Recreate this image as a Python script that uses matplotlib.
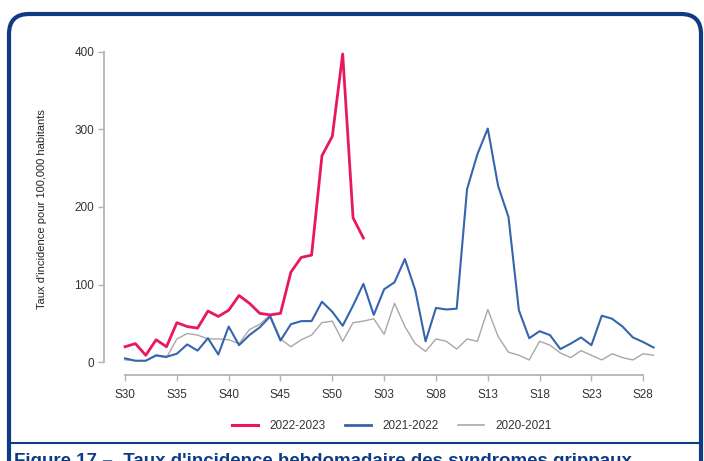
import numpy as np
import matplotlib
matplotlib.use("Agg")
import matplotlib.pyplot as plt
from matplotlib.patches import FancyBboxPatch
from matplotlib.lines import Line2D

plt.rcParams['font.family'] = ['Liberation Sans Narrow', 'Liberation Sans', 'DejaVu Sans']

# weeks S30 .. S52, S01 .. S29
weeks = ["S%02d" % w for w in list(range(30, 53)) + list(range(1, 30))]
tick_labels = ["S30", "S35", "S40", "S45", "S50", "S03", "S08", "S13", "S18", "S23", "S28"]

s2022 = [20, 24, 9, 29, 20, 51, 46, 44, 66, 59, 67, 86, 76, 63, 61, 63,
         116, 135, 138, 266, 291, 397, 186, 160]
s2021 = [5, 2, 2, 9, 7, 11, 23, 15, 31, 10, 46, 22, 35, 45, 59, 28,
         49, 53, 53, 78, 65, 47, 73, 101, 61, 94, 103, 133, 93, 27, 70, 68,
         69, 223, 268, 301, 227, 187, 67, 31, 40, 35, 17, 24, 32, 22, 60, 56,
         46, 32, 26, 19]
s2020 = [3, 2, 2, 8, 6, 30, 37, 35, 30, 30, 29, 24, 42, 49, 61, 30,
         20, 29, 35, 51, 53, 27, 51, 53, 56, 36, 76, 46, 24, 14, 30, 27,
         17, 30, 27, 68, 33, 13, 9, 3, 27, 22, 12, 6, 15, 9, 3, 11,
         6, 3, 11, 9]

red = "#e8185f"
blue = "#3566ad"
grey = "#a8a8a8"
axis_col = "#b4b4b4"
frame_col = "#0d3c85"

fig = plt.figure(figsize=(7.04, 4.61), dpi=100)
ax = fig.add_axes([104 / 704, 86 / 461, 561 / 704, 330 / 461])

x = np.arange(len(weeks))
ax.plot(x[:len(s2020)], s2020, color=grey, lw=1.0, label="2020-2021", zorder=2)
ax.plot(x[:len(s2021)], s2021, color=blue, lw=1.5, label="2021-2022", zorder=3)
ax.plot(x[:len(s2022)], s2022, color=red, lw=2.0, label="2022-2023", zorder=4)

ax.set_xlim(-2.03, 52.1)
ax.set_ylim(-16.4, 408.6)
ticks = [weeks.index(t) for t in tick_labels]
ax.set_xticks(ticks)
ax.set_xticklabels(tick_labels)
ax.set_yticks([0, 100, 200, 300, 400])

for s in ["top", "right"]:
    ax.spines[s].set_visible(False)
ax.spines["left"].set_bounds(0, 400)
ax.spines["bottom"].set_bounds(ticks[0], ticks[-1])
for s in ["left", "bottom"]:
    ax.spines[s].set_color(axis_col)
    ax.spines[s].set_linewidth(1.3)
ax.tick_params(colors=axis_col, length=4, width=1.0, labelcolor="#333333",
               labelsize=8.5, pad=3)
ax.tick_params(axis="x", pad=6)

fig.text(42 / 704, 1 - 209 / 461, "Taux d'incidence pour 100,000 habitants",
         rotation=90, ha="center", va="center", fontsize=8, color="#222222")

handles = [Line2D([], [], color=red, lw=2.2),
           Line2D([], [], color=blue, lw=2.0),
           Line2D([], [], color=grey, lw=1.2)]
fig.legend(handles, ["2022-2023", "2021-2022", "2020-2021"], ncol=3,
           loc="center", bbox_to_anchor=(392 / 704, 1 - 426 / 461),
           frameon=False, fontsize=8.5, handlelength=2.2, columnspacing=1.6,
           handletextpad=1.0, labelcolor="#333333")

# rounded frame around the chart, cut by the bottom edge
frame = FancyBboxPatch((9, -30), 692, 449 + 30 - 2,
                       boxstyle="round,pad=0,rounding_size=20",
                       transform=None, fill=False, ec=frame_col, lw=3,
                       clip_on=False)
fig.patches.append(frame)
fig.add_artist(Line2D([9, 701], [18, 18], transform=None, color=frame_col, lw=1.5))

# caption, cut by the bottom edge as in the source
fig.text(14 / 704, 1 - 453 / 461,
         "Figure 17 \u2013  Taux d'incidence hebdomadaire des syndromes grippaux",
         ha="left", va="top", fontsize=13.5, fontweight="bold", color=frame_col,
         family=['Liberation Sans', 'DejaVu Sans'])

fig.savefig("out.png", dpi=100)
